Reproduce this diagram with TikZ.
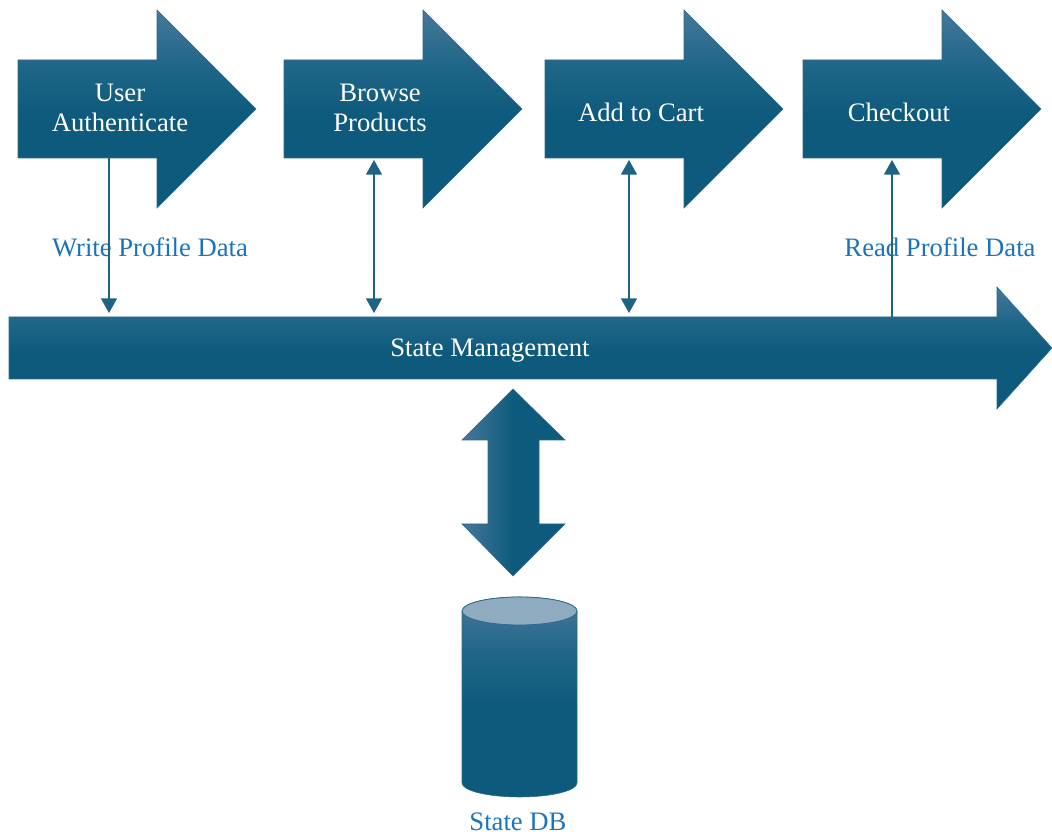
\documentclass[tikz,border=0pt]{standalone}
\usepackage{fontspec}
\setmainfont{Liberation Serif}
\usepackage{tikz,xcolor}
\usetikzlibrary{arrows.meta}

\definecolor{flowlight}{HTML}{46789A}
\definecolor{flowmid}{HTML}{1D6587}
\definecolor{flowdark}{HTML}{0E5A7C}
\definecolor{flowedge}{HTML}{2A6A8A}
\definecolor{linkline}{HTML}{1F6384}
\definecolor{labelblue}{HTML}{1A74BC}
\definecolor{dbtop}{HTML}{8FABBF}

% top to bottom fade, dark from the middle down
\pgfdeclareverticalshading{stepfade}{100bp}{color(0bp)=(flowdark); color(25bp)=(flowdark); color(48bp)=(flowdark); color(60bp)=(flowmid); color(75bp)=(flowlight); color(100bp)=(flowlight)}
% left to right fade for the double arrow
\pgfdeclarehorizontalshading{sidefade}{100bp}{color(0bp)=(flowlight); color(25bp)=(flowlight); color(50bp)=(flowdark); color(100bp)=(flowdark)}

\tikzset{
  stepshade/.style={shading=stepfade, draw=flowedge, line width=0.4pt},
  sideshade/.style={shading=sidefade, draw=flowedge, line width=0.4pt},
  steptext/.style={text=white, align=center, font=\fontsize{20}{23}\selectfont},
  labeltext/.style={text=labelblue, font=\fontsize{20}{23}\selectfont},
  link/.style={draw=linkline, line width=1.1pt, arrows={-Triangle[length=11pt,width=12pt]}},
  dlink/.style={draw=linkline, line width=1.1pt, arrows={Triangle[length=11pt,width=12pt]-Triangle[length=11pt,width=12pt]}}
}

\begin{document}
\begin{tikzpicture}[x=0.75pt,y=0.75pt]
\useasboundingbox (0,0) rectangle (1052,838);

% Draw the four step arrows
  \path[stepshade] (18,680) -- (18,778) -- (157,778) -- (157,828) -- (256,729) -- (157,630) -- (157,680) -- cycle;
  \path[stepshade] (284,680) -- (284,778) -- (423,778) -- (423,828) -- (522,729) -- (423,630) -- (423,680) -- cycle;
  \path[stepshade] (545,680) -- (545,778) -- (684,778) -- (684,828) -- (783,729) -- (684,630) -- (684,680) -- cycle;
  \path[stepshade] (803,680) -- (803,778) -- (942,778) -- (942,828) -- (1041,729) -- (942,630) -- (942,680) -- cycle;
  \node[steptext] (auth) at (120,730) {User\\Authenticate};
    \node[steptext] (browse) at (380,730) {Browse\\Products};
      \node[steptext] (cart) at (641,726) {Add to Cart};
        \node[steptext] (checkout) at (899,726) {Checkout};

 % Draw the long state management arrow
\path[stepshade] (9,459) -- (9,521) -- (997,521) -- (997,551) -- (1052,490) -- (997,429) -- (997,459) -- cycle;
\node[steptext] (state) at (490,487) {State Management};

% Draw the double arrow to the store
\path[sideshade]
  (513,449) -- (565,398) -- (539,398) -- (539,314) -- (565,314) -- (513,262)
  -- (462,314) -- (488,314) -- (488,398) -- (462,398) -- cycle;

% Draw the database cylinder
\path[stepshade] (462,227) -- (462,55) arc[start angle=180, end angle=360, x radius=57.5, y radius=14]
  -- (577,227) arc[start angle=0, end angle=180, x radius=57.5, y radius=14] -- cycle;
\filldraw[fill=dbtop, draw=flowedge, line width=0.6pt] (519.5,227) ellipse[x radius=57.5, y radius=14];
\node[labeltext] (statedb) at (518,16) {State DB};

 % Labels of the data links
\node[labeltext] (writelbl) at (150,591) {Write Profile Data};
\node[labeltext] (readlbl) at (940,591) {Read Profile Data};

% Connector end points
\coordinate (auth-b) at (109,680);
\coordinate (browse-b) at (374,678);
\coordinate (cart-b) at (629,678);
\coordinate (checkout-b) at (892,678);
\coordinate (state-t1) at (109,525);
\coordinate (state-t2) at (374,525);
\coordinate (state-t3) at (629,525);
\coordinate (state-t4) at (892,521);

\draw[link] (auth-b) -- (state-t1);
\draw[dlink] (browse-b) -- (state-t2);
\draw[dlink] (cart-b) -- (state-t3);
\draw[link] (state-t4) -- (checkout-b);

\end{tikzpicture}
\end{document}
